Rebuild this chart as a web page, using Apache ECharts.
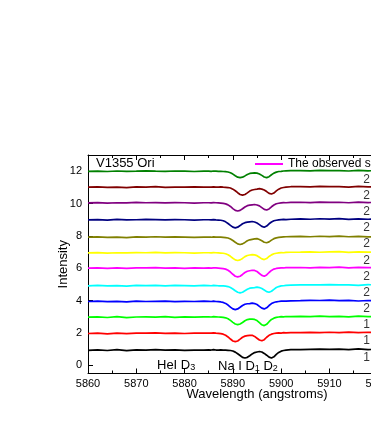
<!DOCTYPE html>
<html><head><meta charset="utf-8">
<script src="https://cdn.jsdelivr.net/npm/echarts@6/dist/echarts.min.js"></script>
<style>html,body{margin:0;padding:0;background:#fff}#c{width:371px;height:425px}</style>
</head><body><div id="c"></div>
<script>
// Wavelength grid (angstroms)
const wavelengths = [5860,5862,5864,5866,5868,5870,5872,5874,5876,5878,5880,5882,5884,
5885,5885.5,5886,5886.5,5887,5887.5,5888,5888.5,5889,5889.5,5890,5890.5,5891,5891.5,5892,5892.5,5893,5893.5,5894,5894.5,5895,5895.5,5896,5896.5,5897,5897.5,5898,5898.5,5899,5899.5,5900,5900.5,5901,
5902,5904,5906,5908,5910,5912,5914,5916,5918,5920];

// Offset spectra, bottom (1) to top (12)
const spec1 = [0.93,0.96,0.92,0.97,0.91,0.96,0.95,0.97,0.94,0.96,0.93,0.95,0.94,
0.96,0.95,0.97,0.95,0.94,0.96,0.95,0.94,0.93,0.92,0.89,0.82,0.72,0.61,0.50,0.46,0.50,0.60,0.71,0.79,0.83,0.86,0.83,0.74,0.63,0.51,0.46,0.53,0.68,0.80,0.88,0.92,0.94,
0.97,0.98,0.99,1.0,0.99,1.0,0.97,1.02,0.98,0.99];
const spec2 = [1.97,1.99,1.95,2.0,1.96,1.99,2.0,2.01,1.98,2.0,1.97,1.99,2.0,
2.0,1.99,2.01,1.99,1.98,1.96,1.93,1.86,1.76,1.63,1.51,1.47,1.51,1.62,1.74,1.81,1.84,1.86,1.86,1.79,1.68,1.57,1.52,1.59,1.74,1.86,1.93,1.97,1.99,2.01,2.0,2.02,2.01,
2.03,2.02,2.04,2.03,2.05,2.03,2.06,2.02,2.05,2.04];
const spec3 = [2.98,3.0,2.96,3.01,2.95,2.99,3.0,2.98,3.01,2.97,3.0,2.98,3.0,
3.0,2.99,3.01,3.0,2.99,2.98,2.97,2.94,2.88,2.78,2.66,2.56,2.52,2.56,2.65,2.76,2.83,2.86,2.86,2.84,2.77,2.64,2.51,2.46,2.54,2.70,2.84,2.92,2.97,2.99,3.01,3.0,3.02,
3.02,3.03,3.01,3.04,3.02,3.03,3.0,3.04,3.01,3.03];
const spec4 = [3.95,3.97,3.94,3.96,3.93,3.97,3.95,3.96,3.97,3.94,3.96,3.95,3.97,
3.96,3.95,3.97,3.95,3.94,3.92,3.89,3.83,3.73,3.60,3.49,3.45,3.49,3.59,3.70,3.78,3.81,3.82,3.85,3.82,3.76,3.65,3.54,3.49,3.56,3.70,3.82,3.89,3.93,3.95,3.97,3.98,3.97,
3.99,4.0,4.02,4.01,4.03,4.0,4.02,3.98,4.01,4.0];
const spec5 = [4.92,4.94,4.91,4.93,4.90,4.94,4.93,4.95,4.92,4.94,4.93,4.92,4.94,
4.93,4.92,4.94,4.93,4.92,4.92,4.91,4.90,4.87,4.81,4.72,4.61,4.52,4.48,4.52,4.61,4.70,4.77,4.79,4.81,4.84,4.81,4.75,4.66,4.56,4.52,4.58,4.70,4.81,4.87,4.91,4.92,4.94,
4.96,4.97,4.98,4.97,4.99,4.97,4.98,4.95,4.99,4.97];
const spec6 = [6.01,6.03,6.0,6.02,5.99,6.03,6.02,6.04,6.01,6.03,6.0,6.02,6.01,
6.02,6.01,6.03,6.02,6.01,6.0,5.98,5.95,5.88,5.77,5.63,5.51,5.47,5.51,5.62,5.74,5.82,5.85,5.88,5.87,5.80,5.68,5.56,5.51,5.59,5.74,5.87,5.95,5.99,6.01,6.03,6.02,6.04,
6.04,6.05,6.03,6.06,6.04,6.07,6.03,6.06,6.04,6.05];
const spec7 = [6.95,6.97,6.94,6.96,6.95,6.97,6.96,6.98,6.95,6.97,6.96,6.94,6.96,
6.96,6.95,6.97,6.96,6.95,6.94,6.93,6.90,6.84,6.74,6.62,6.52,6.48,6.52,6.61,6.72,6.79,6.82,6.84,6.83,6.78,6.68,6.58,6.54,6.60,6.73,6.83,6.90,6.93,6.95,6.97,6.96,6.98,
6.99,7.0,7.02,6.99,7.01,7.03,6.98,7.02,7.0,7.01];
const spec8 = [7.92,7.94,7.91,7.93,7.90,7.94,7.93,7.95,7.92,7.94,7.93,7.91,7.93,
7.93,7.92,7.94,7.93,7.92,7.92,7.91,7.90,7.87,7.81,7.72,7.61,7.51,7.47,7.51,7.60,7.70,7.76,7.79,7.82,7.83,7.78,7.70,7.61,7.58,7.63,7.74,7.83,7.88,7.91,7.93,7.94,7.95,
7.96,7.97,7.95,7.98,7.96,7.99,7.95,7.97,7.94,7.96];
const spec9 = [8.99,9.01,8.98,9.02,8.99,9.0,9.02,9.01,8.99,9.01,9.0,8.98,9.0,
9.0,8.99,9.01,8.99,8.98,8.97,8.94,8.87,8.77,8.65,8.54,8.50,8.54,8.64,8.75,8.82,8.85,8.87,8.89,8.86,8.80,8.70,8.59,8.54,8.61,8.75,8.86,8.94,8.97,8.99,9.01,9.02,9.01,
9.03,9.05,9.03,9.06,9.04,9.07,9.02,9.05,9.03,9.04];
const spec10 = [10.04,10.06,10.03,10.05,10.04,10.07,10.05,10.06,10.04,10.06,10.05,10.03,10.05,
10.05,10.04,10.06,10.05,10.04,10.03,10.01,9.98,9.92,9.82,9.69,9.58,9.54,9.58,9.68,9.79,9.87,9.90,9.92,9.94,9.91,9.86,9.75,9.64,9.60,9.67,9.80,9.91,9.99,10.02,10.04,10.06,10.05,
10.07,10.08,10.06,10.09,10.07,10.08,10.05,10.09,10.06,10.08];
const spec11 = [11.01,11.03,11.0,11.02,10.99,11.03,11.01,11.04,11.0,11.02,11.01,11.03,11.02,
11.02,11.01,11.03,11.02,11.01,11.03,11.01,11.0,10.99,10.96,10.89,10.79,10.67,10.56,10.52,10.56,10.66,10.77,10.84,10.87,10.89,10.92,10.89,10.84,10.74,10.63,10.59,10.65,10.78,10.89,10.96,10.99,11.01,
11.04,11.05,11.03,11.06,11.04,11.05,11.02,11.06,11.03,11.05];
const spec12 = [11.99,12.0,11.98,12.01,11.99,12.0,12.02,12.0,11.99,12.01,12.0,11.98,12.0,
12.0,11.99,12.01,12.0,11.99,11.99,11.98,11.97,11.95,11.90,11.82,11.72,11.63,11.60,11.63,11.71,11.80,11.86,11.88,11.89,11.88,11.83,11.74,11.64,11.60,11.66,11.78,11.88,11.94,11.98,11.99,12.01,12.02,
12.03,12.04,12.02,12.05,12.03,12.04,12.01,12.05,12.02,12.04];

const spectrumNames = ['Spectrum 1','Spectrum 2','Spectrum 3','Spectrum 4','Spectrum 5','The observed spectra','Spectrum 7','Spectrum 8','Spectrum 9','Spectrum 10','Spectrum 11','Spectrum 12'];
const offsets = [1,2,3,4,5,6,7,8,9,10,11,12];
const sideLabels = ['1.45','1.52','1.63','2.01','2.08','2.15','2.23','2.31','2.40','2.48','2.56','2.65'];
const yTickValues = [0,2,4,6,8,10,12];

const spectra = [spec1,spec2,spec3,spec4,spec5,spec6,spec7,spec8,spec9,spec10,spec11,spec12];
const colors = ['#000000','#ff0000','#00ff00','#0000ff','#00ffff','#ff00ff','#ffff00','#808000','#000080','#800080','#800000','#008000'];
const FONT = '"Liberation Sans", Arial, sans-serif';

const chart = echarts.init(document.getElementById('c'), null, {renderer:'canvas'});
const series = spectra.map((arr, k) => ({
  type: 'line', name: spectrumNames[k],
  data: wavelengths.map((x, i) => [x, arr[i]]),
  showSymbol: false, symbol: 'none', silent: true,
  lineStyle: {color: colors[k], width: 1.7},
  itemStyle: {color: colors[k]},
  animation: false
}));
series.push({
  type: 'scatter', name: 'labels', symbolSize: 0, silent: true, animation: false,
  data: offsets.map((o, k) => ({value: [5917, o - 0.5], label: {formatter: sideLabels[k]}})),
  label: {show: true, position: 'inside', align: 'left', color: '#000', fontSize: 12, fontFamily: FONT}
});

const axisCommon = {
  type: 'value', min: 5860, max: 5930, interval: 10,
  axisLine: {show: true, onZero: false, lineStyle: {color: '#000', width: 1}},
  axisTick: {show: true, inside: true, length: 5, lineStyle: {color: '#000'}},
  minorTick: {show: true, splitNumber: 2, length: 3, lineStyle: {color: '#000'}},
  splitLine: {show: false}
};

chart.setOption({
  animation: false,
  backgroundColor: '#fff',
  grid: {left: 88, top: 155, width: 338, height: 218.5, containLabel: false, outerBoundsMode: 'none'},
  legend: {
    data: ['The observed spectra'], left: 255, top: 158, icon: 'rect', padding: 0,
    itemWidth: 28, itemHeight: 2, itemGap: 5,
    textStyle: {fontSize: 12, fontFamily: FONT, color: '#000'}
  },
  xAxis: [
    Object.assign({}, axisCommon, {
      position: 'bottom',
      name: 'Wavelength (angstroms)', nameLocation: 'middle', nameGap: 14, nameMoveOverlap: false,
      nameTextStyle: {fontSize: 13, fontFamily: FONT, color: '#000'},
      axisLabel: {show: true, fontSize: 11, fontFamily: FONT, color: '#000', margin: 5,
                  formatter: v => String(v)}
    }),
    Object.assign({}, axisCommon, {position: 'top', axisLabel: {show: false}})
  ],
  yAxis: {
    type: 'value', min: -0.5, max: 13,
    name: 'Intensity', nameLocation: 'middle', nameGap: 18, nameMoveOverlap: false,
    nameTextStyle: {fontSize: 13, fontFamily: FONT, color: '#000'},
    axisLine: {show: true, onZero: false, lineStyle: {color: '#000', width: 1}},
    axisTick: {show: true, inside: true, length: 5, customValues: yTickValues, lineStyle: {color: '#000'}},
    axisLabel: {show: true, fontSize: 11, fontFamily: FONT, color: '#000', margin: 6, customValues: yTickValues},
    splitLine: {show: false}
  },
  graphic: [
    {type: 'text', left: 96, top: 157, style: {text: 'V1355 Ori', fontSize: 13, fontFamily: FONT, fill: '#000'}},
    {type: 'text', left: 157, top: 359, style: {
      text: '{a|HeI D}{s|3}', fill: '#000',
      rich: {a: {fontSize: 13, fontFamily: FONT, lineHeight: 15, verticalAlign: 'bottom'},
             s: {fontSize: 9, fontFamily: FONT, lineHeight: 13, verticalAlign: 'bottom'}}}},
    {type: 'text', left: 218, top: 360, style: {
      text: '{a|Na I D}{s|1}{a| D}{s|2}', fill: '#000',
      rich: {a: {fontSize: 13, fontFamily: FONT, lineHeight: 15, verticalAlign: 'bottom'},
             s: {fontSize: 9, fontFamily: FONT, lineHeight: 13, verticalAlign: 'bottom'}}}}
  ],
  series: series
});
</script></body></html>
